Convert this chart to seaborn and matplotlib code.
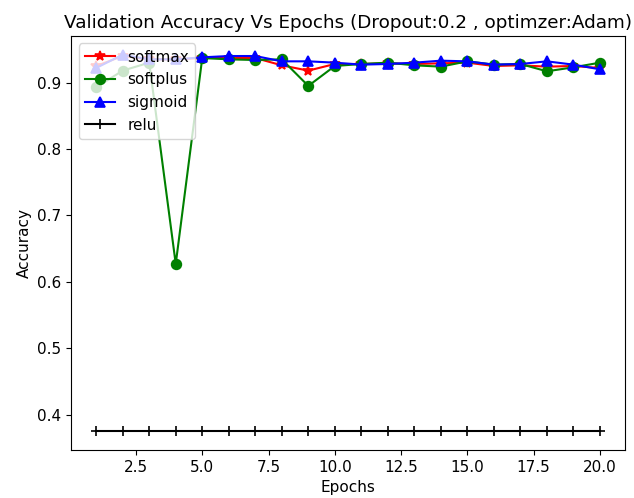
import matplotlib
matplotlib.use("Agg")
import matplotlib.pyplot as plt
import seaborn as sns

# validation accuracy per epoch
epochs = list(range(1, 21))
softmax = [0.925, 0.940, 0.935, 0.935, 0.937, 0.937, 0.937, 0.926, 0.918, 0.928,
           0.928, 0.929, 0.928, 0.929, 0.930, 0.925, 0.926, 0.924, 0.925, 0.922]
softplus = [0.893, 0.918, 0.930, 0.627, 0.937, 0.935, 0.934, 0.935, 0.895, 0.925,
            0.928, 0.930, 0.926, 0.924, 0.932, 0.927, 0.928, 0.917, 0.923, 0.930]
sigmoid = [0.922, 0.942, 0.935, 0.935, 0.938, 0.940, 0.940, 0.932, 0.932, 0.930,
           0.927, 0.928, 0.930, 0.933, 0.932, 0.927, 0.928, 0.932, 0.927, 0.920]
relu = [0.375] * 20

plt.rcParams["font.size"] = 11

fig, ax = plt.subplots(figsize=(6.34, 4.98), dpi=100)

# line styles
series = [
    ("softmax", softmax, "red", "*"),
    ("softplus", softplus, "green", "o"),
    ("sigmoid", sigmoid, "blue", "^"),
    ("relu", relu, "black", "+"),
]
for name, vals, col, mk in series:
    sns.lineplot(x=epochs, y=vals, ax=ax, color=col, marker=mk, label=name,
                 markersize=7, markeredgecolor=col, markeredgewidth=1.2)

ax.set_title("Validation Accuracy Vs Epochs (Dropout:0.2 , optimzer:Adam)")
ax.set_xlabel("Epochs")
ax.set_ylabel("Accuracy")
ax.legend(loc="upper left")

plt.subplots_adjust(left=0.112, right=0.986, top=0.928, bottom=0.096)
plt.savefig("out.png", dpi=100)
